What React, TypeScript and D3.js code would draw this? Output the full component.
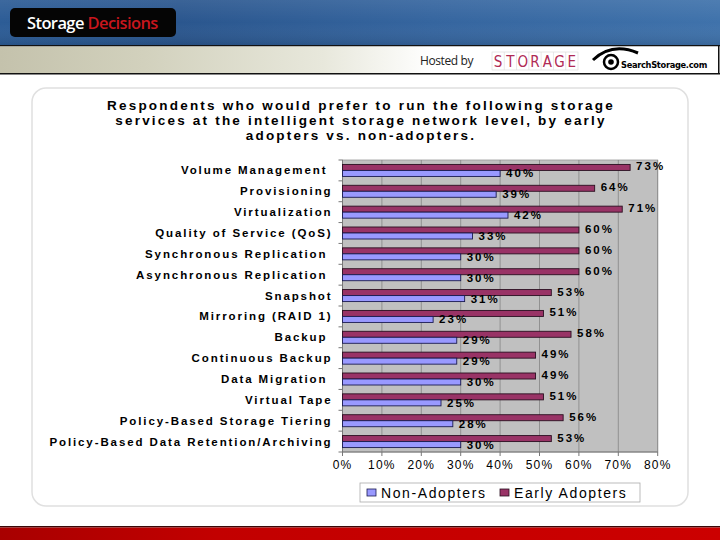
import React from "react";
import * as d3 from "d3";

const categories = [
  "Volume Management ",
  "Provisioning",
  "Virtualization",
  "Quality of Service (QoS)",
  "Synchronous Replication ",
  "Asynchronous Replication ",
  "Snapshot",
  "Mirroring (RAID 1)",
  "Backup ",
  "Continuous Backup",
  "Data Migration ",
  "Virtual Tape",
  "Policy-Based Storage Tiering",
  "Policy-Based Data Retention/Archiving",
];
const earlyAdopters = [73, 64, 71, 60, 60, 60, 53, 51, 58, 49, 49, 51, 56, 53];
const nonAdopters = [40, 39, 42, 33, 30, 30, 31, 23, 29, 29, 30, 25, 28, 30];
const xTicks = [0, 10, 20, 30, 40, 50, 60, 70, 80];
const titleLines = [
  "Respondents who would prefer to run the following storage",
  "services at the intelligent storage network level, by early",
  "adopters vs. non-adopters.",
];
const seriesNames = ["Non-Adopters", "Early Adopters"];

const W = 720;
const H = 540;
const plot = { left: 342.5, right: 657.7, top: 160, bottom: 452 };
const EARLY = "#993366";
const NON = "#9999FF";
const FONT = "'Liberation Sans', Arial, sans-serif";

export default function App() {
  const x = d3.scaleLinear().domain([0, 80]).range([plot.left, plot.right]);
  const y = d3
    .scaleBand<string>()
    .domain(categories)
    .range([plot.top, plot.bottom])
    .paddingInner(0)
    .paddingOuter(0);
  const bw = y.bandwidth();
  const barH = 6;
  const storageLetters = "STORAGE".split("");
  const cellW = 86 / 7;

  return (
    <svg
      width={W}
      height={H}
      style={{ position: "absolute", left: 0, top: 0, display: "block" }}
      xmlns="http://www.w3.org/2000/svg"
    >
      <defs>
        <linearGradient id="blue" x1="0" x2="1" y1="0" y2="0">
          <stop offset="0" stopColor="#2c5c96" />
          <stop offset="0.25" stopColor="#2a568e" />
          <stop offset="0.6" stopColor="#35659f" />
          <stop offset="1" stopColor="#3f72ab" />
        </linearGradient>
        <linearGradient id="blueV" x1="0" x2="0" y1="0" y2="1">
          <stop offset="0" stopColor="#ffffff" stopOpacity="0.08" />
          <stop offset="0.5" stopColor="#ffffff" stopOpacity="0" />
          <stop offset="1" stopColor="#000000" stopOpacity="0.1" />
        </linearGradient>
        <linearGradient id="strip" x1="0" x2="1" y1="0" y2="0">
          <stop offset="0" stopColor="#c4c2ac" />
          <stop offset="0.2" stopColor="#d2d1bd" />
          <stop offset="0.45" stopColor="#e8e8dc" />
          <stop offset="0.6" stopColor="#ffffff" />
          <stop offset="1" stopColor="#ffffff" />
        </linearGradient>
        <linearGradient id="red" x1="0" x2="1" y1="0" y2="0">
          <stop offset="0" stopColor="#a80000" />
          <stop offset="0.3" stopColor="#c20000" />
          <stop offset="1" stopColor="#cc0000" />
        </linearGradient>
      </defs>

      <rect x={0} y={0} width={W} height={H} fill="#ffffff" />

      {/* Header banner */}
      <rect x={0} y={0} width={W} height={45} fill="url(#blue)" />
      <rect x={0} y={0} width={W} height={45} fill="url(#blueV)" />
      <rect x={10} y={8} width={166} height={29} rx={5} fill="#050505" />
      <text
        x={27}
        y={29}
        fontFamily="'Open Sans', sans-serif"
        fontWeight={600}
        fontSize={16.5}
        letterSpacing={-0.6}
      >
        <tspan fill="#ffffff">Storage </tspan>
        <tspan fill="#c8161d">Decisions</tspan>
      </text>
      <rect x={0} y={45} width={W} height={1.5} fill="#111" />
      <rect x={0} y={46.5} width={W} height={27} fill="url(#strip)" />
      <rect x={0} y={73} width={W} height={1.5} fill="#111" />
      <rect x={718} y={46} width={1.5} height={28} fill="#111" />
      <text
        x={420}
        y={65}
        fontFamily="'Open Sans', sans-serif"
        fontSize={12}
        fill="#222"
        letterSpacing={-0.4}
      >
        Hosted by
      </text>
      {/* STORAGE logo */}
      <rect x={492} y={52} width={86} height={18} fill="#ffffff" stroke="#d8d8d8" strokeWidth={0.6} />
      {storageLetters.map((ch, i) => (
        <g key={ch + i}>
          {i > 0 && (
            <line
              x1={492 + i * cellW}
              x2={492 + i * cellW}
              y1={52}
              y2={70}
              stroke="#d8d8d8"
              strokeWidth={0.6}
            />
          )}
          <text
            x={492 + i * cellW + cellW / 2}
            y={67}
            textAnchor="middle"
            fontFamily="'DejaVu Sans Condensed', 'Liberation Sans Narrow', sans-serif"
            fontSize={15}
            fill="#b02a55"
          >
            {ch}
          </text>
        </g>
      ))}
      {/* SearchStorage logo */}
      <path d="M593,60 Q612,42 638,53" fill="none" stroke="#000" strokeWidth={3} />
      <circle cx={611} cy={62} r={7} fill="#fff" stroke="#000" strokeWidth={2.5} />
      <circle cx={611} cy={62} r={2.8} fill="#000" />
      <text
        x={621}
        y={68}
        fontFamily="'Liberation Sans Narrow', 'DejaVu Sans Condensed', sans-serif"
        fontWeight={700}
        fontSize={9.2}
        fill="#000"
        letterSpacing={-0.3}
      >
        SearchStorage.com
      </text>

      {/* Chart panel */}
      <rect x={32} y={88} width={656} height={418} rx={14} fill="#ffffff" stroke="#e0e0e0" strokeWidth={1.5} />

      {titleLines.map((t, i) => (
        <text
          key={i}
          x={361}
          y={110 + i * 15}
          textAnchor="middle"
          fontFamily={FONT}
          fontWeight={700}
          fontSize={13.5}
          letterSpacing={2.2}
          fill="#000"
        >
          {t}
        </text>
      ))}

      {/* Plot area */}
      <rect
        x={plot.left}
        y={plot.top}
        width={plot.right - plot.left}
        height={plot.bottom - plot.top}
        fill="#c0c0c0"
        stroke="#999"
        strokeWidth={0.8}
      />
      {xTicks.slice(1).map((t) => (
        <line key={t} x1={x(t)} x2={x(t)} y1={plot.top} y2={plot.bottom} stroke="#858585" strokeWidth={0.8} />
      ))}
      {/* Left axis */}
      <line x1={plot.left} x2={plot.left} y1={plot.top} y2={plot.bottom} stroke="#777" strokeWidth={1} />
      {d3.range(categories.length + 1).map((i) => (
        <line
          key={i}
          x1={plot.left - 4}
          x2={plot.left}
          y1={plot.top + i * bw}
          y2={plot.top + i * bw}
          stroke="#777"
          strokeWidth={1}
        />
      ))}
      {/* Bottom axis */}
      <line x1={plot.left} x2={plot.right} y1={plot.bottom} y2={plot.bottom} stroke="#777" strokeWidth={1} />
      {xTicks.map((t) => (
        <g key={t}>
          <line x1={x(t)} x2={x(t)} y1={plot.bottom} y2={plot.bottom + 4} stroke="#777" strokeWidth={1} />
          <text
            x={x(t)}
            y={plot.bottom + 17}
            textAnchor="middle"
            fontFamily={FONT}
            fontSize={12}
            letterSpacing={1.2}
            fill="#000"
          >
            {t}%
          </text>
        </g>
      ))}

      {/* Bars */}
      {categories.map((c, i) => {
        const y0 = (y(c) as number) + (bw - 2 * barH) / 2;
        return (
          <g key={c}>
            <rect
              x={x(0)}
              y={y0}
              width={x(earlyAdopters[i]) - x(0)}
              height={barH}
              fill={EARLY}
              stroke="#2a0f20"
              strokeWidth={0.9}
            />
            <rect
              x={x(0)}
              y={y0 + barH}
              width={x(nonAdopters[i]) - x(0)}
              height={barH}
              fill={NON}
              stroke="#1a1a50"
              strokeWidth={0.9}
            />
            <text
              x={x(earlyAdopters[i]) + 6}
              y={y0 + 6}
              fontFamily={FONT}
              fontWeight={700}
              fontSize={11.5}
              letterSpacing={2}
              fill="#000"
            >
              {earlyAdopters[i]}%
            </text>
            <text
              x={x(nonAdopters[i]) + 6}
              y={y0 + 13}
              fontFamily={FONT}
              fontWeight={700}
              fontSize={11.5}
              letterSpacing={2}
              fill="#000"
            >
              {nonAdopters[i]}%
            </text>
            <text
              x={plot.left - 10}
              y={(y(c) as number) + bw / 2 + 4}
              textAnchor="end"
              fontFamily={FONT}
              fontWeight={700}
              fontSize={11.5}
              letterSpacing={1.9}
              fill="#000"
              style={{ whiteSpace: "pre" }}
            >
              {c}
            </text>
          </g>
        );
      })}

      {/* Legend */}
      <rect x={360} y={483} width={280} height={19} fill="#ffffff" stroke="#aaa" strokeWidth={0.8} />
      <rect x={367} y={489} width={9} height={7} fill={NON} stroke="#1a1a50" strokeWidth={0.8} />
      <text x={381} y={497.5} fontFamily={FONT} fontSize={14} letterSpacing={1.6} fill="#000">
        {seriesNames[0]}
      </text>
      <rect x={500} y={489} width={9} height={7} fill={EARLY} stroke="#2a0f20" strokeWidth={0.8} />
      <text x={514} y={497.5} fontFamily={FONT} fontSize={14} letterSpacing={1.6} fill="#000">
        {seriesNames[1]}
      </text>

      {/* Footer */}
      <rect x={0} y={526} width={W} height={1.5} fill="#3a0808" />
      <rect x={0} y={527.5} width={W} height={12.5} fill="url(#red)" />
    </svg>
  );
}
